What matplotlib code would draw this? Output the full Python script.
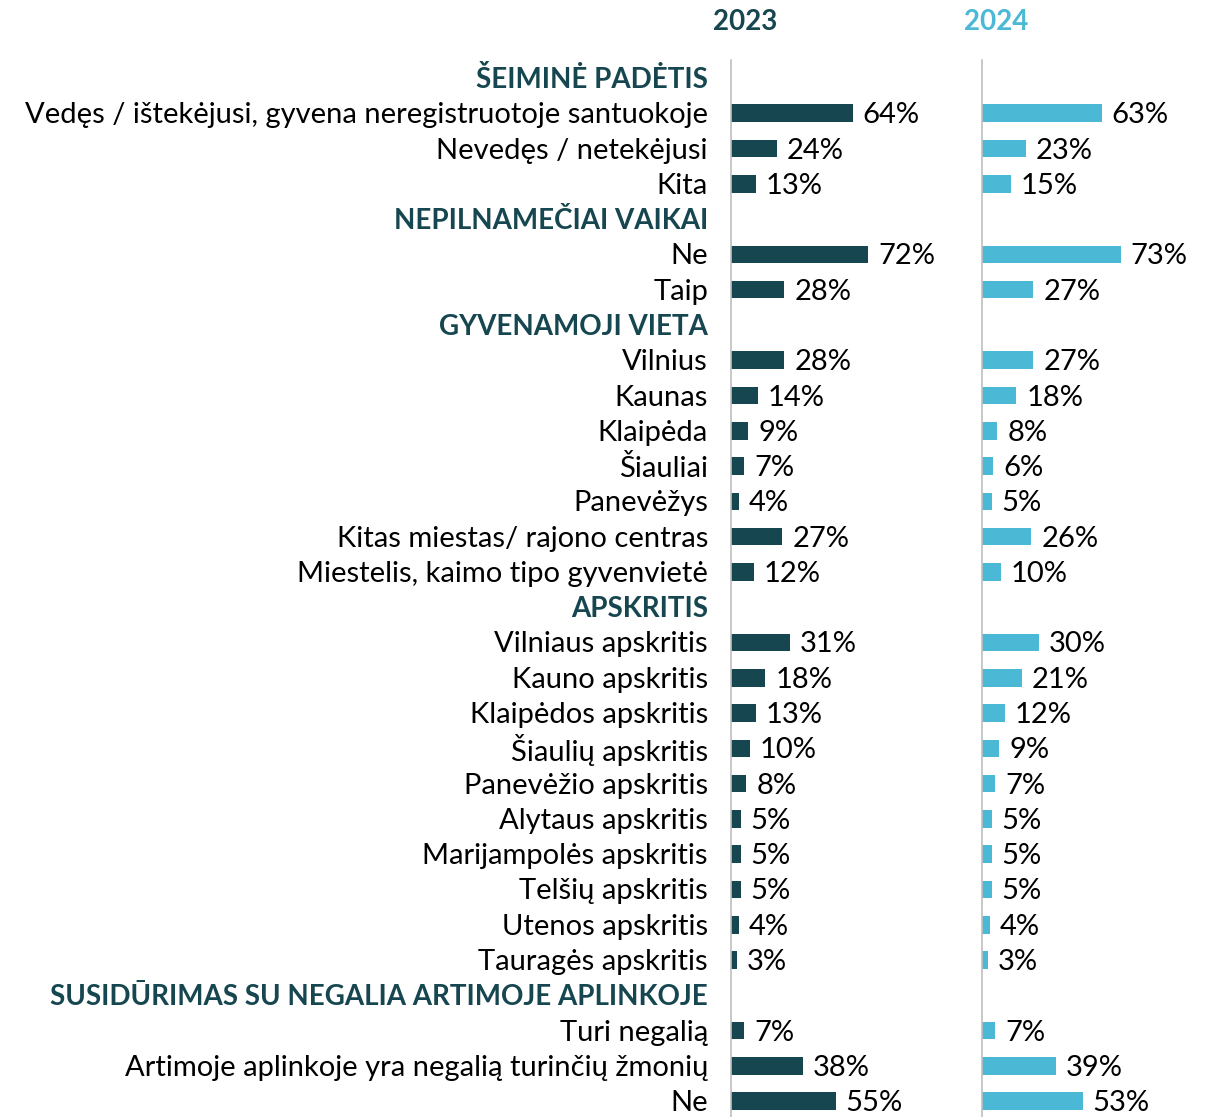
import matplotlib
matplotlib.use("Agg")
import matplotlib.pyplot as plt
import matplotlib.transforms as mtransforms

plt.rcParams['font.family'] = ['Lato', 'DejaVu Sans']

# Rows: (label, is_header)
labels = [
    "ŠEIMINĖ PADĖTIS",
    "Vedęs / ištekėjusi, gyvena neregistruotoje santuokoje",
    "Nevedęs / netekėjusi",
    "Kita",
    "NEPILNAMEČIAI VAIKAI",
    "Ne",
    "Taip",
    "GYVENAMOJI VIETA",
    "Vilnius",
    "Kaunas",
    "Klaipėda",
    "Šiauliai",
    "Panevėžys",
    "Kitas miestas/ rajono centras",
    "Miestelis, kaimo tipo gyvenvietė",
    "APSKRITIS",
    "Vilniaus apskritis",
    "Kauno apskritis",
    "Klaipėdos apskritis",
    "Šiaulių apskritis",
    "Panevėžio apskritis",
    "Alytaus apskritis",
    "Marijampolės apskritis",
    "Telšių apskritis",
    "Utenos apskritis",
    "Tauragės apskritis",
    "SUSIDŪRIMAS SU NEGALIA ARTIMOJE APLINKOJE",
    "Turi negalią",
    "Artimoje aplinkoje yra negalią turinčių žmonių",
    "Ne",
]
headers = {0, 4, 7, 15, 26}

values_2023 = [None, 64, 24, 13, None, 72, 28, None, 28, 14, 9, 7, 4, 27, 12,
               None, 31, 18, 13, 10, 8, 5, 5, 5, 4, 3, None, 7, 38, 55]
values_2024 = [None, 63, 23, 15, None, 73, 27, None, 27, 18, 8, 6, 5, 26, 10,
               None, 30, 21, 12, 9, 7, 5, 5, 5, 4, 3, None, 7, 39, 53]
years = ["2023", "2024"]

DARK = "#16464F"
LIGHT = "#4BB9D6"

W, H = 1215, 1117
fig = plt.figure(figsize=(W / 100, H / 100), dpi=100)

top_px, bot_px = 60, 1117
ax1 = fig.add_axes([731 / W, 0, 251 / W, (bot_px - top_px) / H])
ax2 = fig.add_axes([982 / W, 0, 233 / W, (bot_px - top_px) / H])

FS = 21
FSB = 20
for ax, vals, col, xmax, year in [(ax1, values_2023, DARK, 132, years[0]),
                                   (ax2, values_2024, LIGHT, 122.6, years[1])]:
    ys = [i for i, v in enumerate(vals) if v is not None]
    vs = [v for v in vals if v is not None]
    ax.barh(ys, vs, height=0.5, color=col, edgecolor="none")
    off = mtransforms.offset_copy(ax.transData, fig=fig, x=10, y=-2, units='dots')
    for y, v in zip(ys, vs):
        ax.text(v, y, f"{v}%", transform=off, va='center', ha='left',
                fontsize=FS, color='black', clip_on=False)
    ax.set_xlim(0, xmax)
    ax.set_ylim(29.45, -0.51)
    ax.set_xticks([])
    ax.set_yticks([])
    for s in ['top', 'right', 'bottom']:
        ax.spines[s].set_visible(False)
    ax.spines['left'].set_color('#BFBFBF')
    ax.spines['left'].set_linewidth(1.2)
    ax.patch.set_alpha(0)

# Category labels
lab_tr = mtransforms.blended_transform_factory(ax1.transAxes, ax1.transData)
lab_tr = mtransforms.offset_copy(lab_tr, fig=fig, x=-23, y=-2, units='dots')
for i, lab in enumerate(labels):
    if i in headers:
        ax1.text(0, i, lab, transform=lab_tr, ha='right', va='center',
                 fontsize=FSB, fontweight='bold', color=DARK)
    else:
        ax1.text(0, i, lab, transform=lab_tr, ha='right', va='center',
                 fontsize=FS, color='black')

# Year headers
fig.text(745 / W, 1 - 22 / H, years[0], ha='center', va='center',
         fontsize=20, fontweight='bold', color=DARK)
fig.text(996 / W, 1 - 22 / H, years[1], ha='center', va='center',
         fontsize=20, fontweight='bold', color=LIGHT)

fig.savefig("out.png", dpi=100)
